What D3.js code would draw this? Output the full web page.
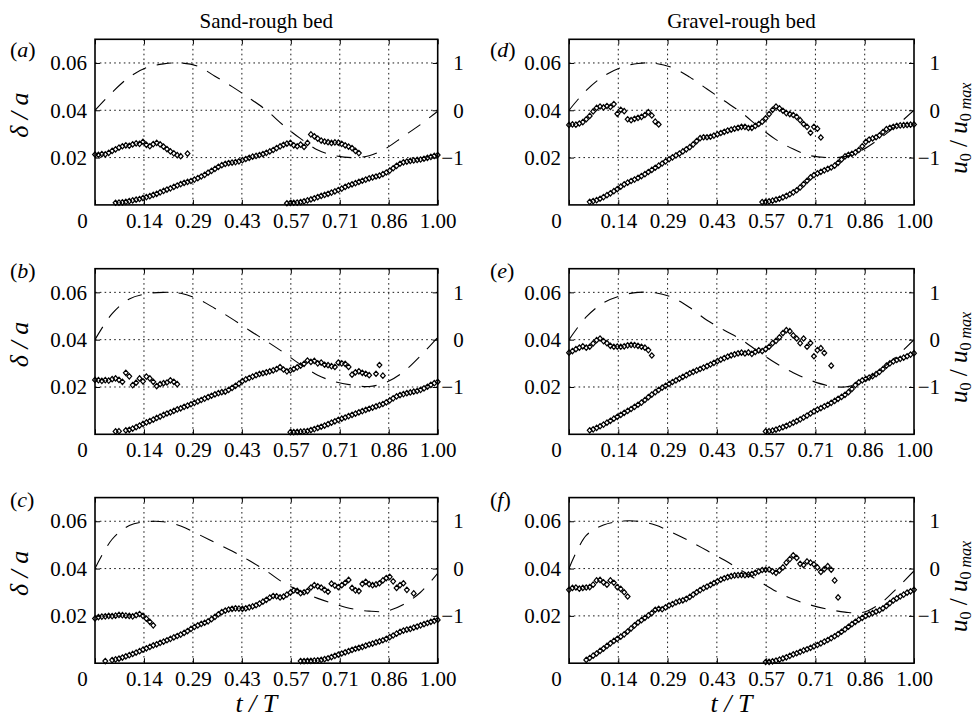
<!DOCTYPE html>
<html><head><meta charset="utf-8">
<script src="https://cdn.jsdelivr.net/npm/d3@7"></script>
<style>
body{margin:0;background:#fff}
svg{display:block}
text{font-family:"Liberation Serif","Times New Roman",serif;fill:#000}
</style>
</head><body>
<svg id="chart" width="980" height="721"></svg>
<script>
// ---------------- DATA ----------------
// Phase sampling step of the δ/a measurements (t/T)
const STEP = 0.01;
// Start phase of each diamond segment: [upper 1, rising 1, upper 2, rising 2]
const aStarts = [0.00, 0.06, 0.58, 0.56];
const bStarts = [0.00, 0.06, 0.58, 0.57];
const cStarts = [0.00, 0.03, 0.60, 0.60];
const dStarts = [0.00, 0.06, 0.60, 0.56];
const eStarts = [0.00, 0.06, 0.60, 0.57];
const fStarts = [0.00, 0.05, 0.61, 0.57];

// (a) sand, δ/a
const aUp1 = [.0213,.0212,.0215,.0214,.0220,.0228,.0235,.0242,.0248,.0252,.0250,.0256,.0260,.0258,.0267,.0254,.0248,.0257,.0262,.0256,.0246,.0236,.0226,.0218,.0210,.0206,null,.0217];
const aRise1 = [.0009,.0010,.0011,.0013,.0016,.0019,.0022,.0025,.0029,.0033,.0037,.0042,.0047,.0053,.0059,.0065,.0070,.0076,.0082,.0088,.0093,.0097,.0101,.0107,.0113,.0120,.0127,.0136,.0144,.0152,.0161,.0168,.0173,.0177,.0179,.0181,.0184,.0189,.0194,.0199,.0204,.0207,.0211,.0215,.0220,.0226,.0232,.0240,.0247,.0254,.0259,.0262];
const aUp2 = [.0252,.0248,.0255,.0245,.0262,.0298,.0290,.0280,.0272,.0268,.0265,.0262,.0264,.0263,.0258,.0252,.0246,.0240,.0228,.0219];
const aRise2 = [.0007,.0008,.0009,.0010,.0012,.0015,.0019,.0023,.0028,.0033,.0038,.0042,.0047,.0052,.0057,.0063,.0069,.0076,.0082,.0087,.0092,.0097,.0102,.0107,.0112,.0116,.0120,.0124,.0130,.0137,.0145,.0155,.0165,.0174,.0180,.0183,.0186,.0188,.0190,.0192,.0195,.0199,.0203,.0207,.0211];
// (b) sand
const bUp1 = [.0230,.0229,.0226,.0229,.0227,.0233,.0236,.0230,.0222,.0260,.0245,.0208,.0218,.0236,.0224,.0244,.0236,.0222,.0204,.0212,.0216,.0219,.0228,.0222,.0212];
const bRise1 = [.0012,.0013,null,.0017,.0019,.0024,.0030,.0037,.0044,.0050,.0056,.0062,.0069,.0075,.0082,.0088,.0093,.0099,.0105,.0110,.0116,.0121,.0127,.0133,.0139,.0145,.0151,.0157,.0163,.0169,.0174,.0178,.0180,.0188,.0196,.0205,.0214,.0225,.0232,.0238,.0244,.0250,.0255,.0258,.0262,.0266,.0270,.0276,.0284,.0274,.0266,.0270];
const bUp2 = [.0276,.0283,.0290,.0298,.0312,.0306,.0310,.0300,.0303,.0294,.0292,.0288,.0285,.0303,.0300,.0298,.0285,.0252,.0262,.0266,.0260,.0256,.0250,null,.0256,.0293,.0248];
const bRise2 = [.0009,.0009,.0010,.0011,.0012,.0014,.0018,.0022,.0027,.0032,.0037,.0043,.0049,.0055,.0061,.0066,.0071,.0077,.0082,.0087,.0093,.0098,.0103,.0108,.0113,.0118,.0123,.0128,.0135,.0143,.0152,.0160,.0166,.0170,.0174,.0177,.0180,.0183,.0188,.0194,.0201,.0209,.0216,.0222];
// (c) sand
const cUp1 = [.0189,.0195,.0197,.0198,.0200,.0199,.0201,.0204,.0203,.0201,.0200,.0198,.0203,.0208,.0200,.0188,.0175,.0160];
const cRise1 = [.0009,null,.0013,.0016,.0019,.0024,.0029,.0034,.0039,.0045,.0051,.0057,.0063,.0069,.0075,.0080,.0086,.0091,.0097,.0103,.0109,.0115,.0121,.0128,.0136,.0145,.0153,.0160,.0166,.0171,.0177,.0186,.0196,.0207,.0216,.0222,.0227,.0230,.0232,.0231,.0230,.0232,.0236,.0240,.0245,.0252,.0260,.0268,.0277,.0284,.0283,.0278,.0281,.0290,.0298,.0308,.0306];
const cUp2 = [.0296,.0300,.0305,.0320,.0330,.0325,.0320,.0310,.0302,.0336,.0328,.0322,.0330,.0340,.0352,.0318,.0308,.0305,.0335,.0344,.0334,.0330,.0333,.0338,.0350,.0360,.0365,.0346,.0318,.0330,.0338,.0310,null,.0295];
const cRise2 = [.0009,.0009,.0010,.0010,.0011,.0012,.0014,.0017,.0021,.0026,.0031,.0036,.0041,.0046,.0051,.0056,.0061,.0065,.0069,.0074,.0079,.0083,.0088,.0092,.0097,.0103,.0110,.0117,.0125,.0132,.0138,.0142,.0145,.0150,.0155,.0160,.0165,.0170,.0175,.0179,.0183];
// (d) gravel
const dUp1 = [.0338,.0340,.0339,.0344,.0350,.0362,.0376,.0395,.0410,.0416,.0412,.0418,.0414,.0426,.0385,.0402,.0396,.0362,.0358,.0364,.0368,.0372,.0380,.0392,.0378,.0352,.0340];
const dRise1 = [.0013,.0016,.0020,.0026,.0033,.0041,.0049,.0058,.0067,.0077,.0087,.0094,.0101,.0107,.0114,.0122,.0130,.0139,.0148,.0157,.0166,.0175,.0184,.0193,.0201,.0209,.0217,.0226,.0235,.0244,.0256,.0270,.0282,.0286,.0286,.0288,.0293,.0298,.0304,.0309,.0314,.0318,.0322,.0326,.0330,.0330,.0325,.0326,.0334,.0342,.0352,.0366,.0384,.0402];
const dUp2 = [.0416,.0408,.0398,.0388,.0384,.0380,.0372,.0358,.0342,.0330,.0305,.0330,.0322,.0285];
const dRise2 = [.0012,.0013,.0015,.0018,.0022,.0026,.0032,.0038,.0045,.0053,.0062,.0074,.0088,.0102,.0116,.0126,.0133,.0140,.0146,.0152,.0158,.0166,.0178,.0192,.0205,.0212,.0216,.0222,.0232,.0248,.0266,.0276,.0281,.0286,.0294,.0308,.0320,.0326,.0330,.0334,.0336,.0337,.0338,.0339,.0340];
// (e) gravel
const eUp1 = [.0345,.0352,.0360,.0366,.0372,.0366,.0370,.0384,.0398,.0405,.0394,.0385,.0374,.0370,.0371,.0370,.0372,.0376,.0378,.0377,.0374,.0370,.0366,.0356,.0333];
const eRise1 = [.0017,.0021,.0027,.0034,.0041,.0049,.0057,.0066,.0074,.0082,.0091,.0099,.0107,.0116,.0125,.0134,.0145,.0157,.0168,.0178,.0188,.0197,.0205,.0213,.0221,.0228,.0235,.0243,.0250,.0258,.0264,.0270,.0276,.0282,.0288,.0295,.0302,.0309,.0316,.0322,.0328,.0334,.0338,.0342,.0345,.0342,.0346,.0340,.0348,.0355,.0352,.0360,.0370,.0385];
const eUp2 = [.0395,.0410,.0428,.0440,.0436,.0418,.0405,.0385,.0405,.0370,.0386,.0330,.0356,.0364,.0344,null,.0290];
const eRise2 = [.0012,.0013,.0016,.0020,.0025,.0030,.0036,.0042,.0049,.0056,.0063,.0071,.0079,.0088,.0097,.0104,.0111,.0118,.0125,.0133,.0141,.0150,.0158,.0167,.0178,.0192,.0208,.0220,.0228,.0234,.0240,.0246,.0254,.0264,.0276,.0290,.0300,.0308,.0314,.0319,.0324,.0330,.0337,.0343];
// (f) gravel
const fUp1 = [.0310,.0318,.0320,.0315,.0318,.0320,.0322,.0332,.0350,.0352,.0342,.0332,.0350,.0340,.0322,.0314,.0300,.0282];
const fRise1 = [.0014,.0022,.0032,.0041,.0052,.0062,.0073,.0084,.0094,.0103,.0112,.0122,.0134,.0147,.0160,.0172,.0182,.0192,.0202,.0212,.0226,.0230,.0228,.0236,.0244,.0250,.0257,.0262,.0266,.0272,.0280,.0290,.0300,.0309,.0317,.0324,.0331,.0339,.0346,.0353,.0359,.0364,.0368,.0371,.0372,.0373,.0372,.0374,.0377,.0382,.0388,.0394,.0395,.0396,.0388,.0382];
const fUp2 = [.0392,.0405,.0425,.0440,.0456,.0445,.0420,.0415,.0430,.0425,.0418,.0405,.0386,.0398,.0410,.0395,.0350,.0278];
const fRise2 = [.0005,.0006,.0008,.0011,.0015,.0020,.0025,.0031,.0037,.0042,.0048,.0054,.0059,.0065,.0071,.0077,.0084,.0091,.0098,.0106,.0114,.0123,.0133,.0143,.0154,.0165,.0175,.0184,.0192,.0200,.0206,.0212,.0218,.0224,.0232,.0242,.0254,.0265,.0274,.0282,.0290,.0298,.0304,.0310];

// Free-stream velocity u0/u0max (dashed), sampled at FLOW_T
const FLOW_T = [0,0.05,0.10,0.15,0.20,0.25,0.30,0.35,0.40,0.45,0.50,0.55,0.60,0.65,0.70,0.75,0.80,0.85,0.90,0.95,1.00];
const aFlow = [0,.38,.70,.90,.98,1.0,.93,.72,.50,.26,0,-.32,-.60,-.84,-.96,-1.0,-.96,-.80,-.55,-.30,-.02];
const bFlow = [0,.55,.86,.97,1.0,.98,.86,.66,.44,.20,-.03,-.27,-.53,-.75,-.89,-.96,-.99,-.90,-.68,-.34,.05];
const cFlow = [0,.62,.91,.99,.99,.90,.73,.55,.37,.17,-.05,-.30,-.48,-.63,-.75,-.85,-.90,-.90,-.76,-.50,-.10];
const dFlow = [0,.42,.72,.90,.99,.99,.90,.70,.45,.20,-.05,-.35,-.62,-.82,-.96,-1.0,-.98,-.84,-.60,-.32,0];
const eFlow = [0,.48,.78,.93,1.0,.99,.89,.68,.41,.20,0,-.26,-.50,-.70,-.86,-.97,-1.0,-.90,-.65,-.35,0];
const fFlow = [0,.70,.92,1.0,1.0,.92,.76,.58,.38,.18,-.04,-.26,-.48,-.65,-.77,-.86,-.92,-.93,-.75,-.42,-.05];

// Axes
const X_TICKS = [0, 1/7, 2/7, 3/7, 4/7, 5/7, 6/7, 1];
const X_LABELS = ["0","0.14","0.29","0.43","0.57","0.71","0.86","1.00"];
const Y_TICKS = [0.02, 0.04, 0.06];
const Y_LABELS = ["0.02","0.04","0.06"];
const R_TICKS = [-1, 0, 1];
const R_LABELS = ["\u22121","0","1"];
const COL_TITLES = ["Sand-rough bed", "Gravel-rough bed"];

// ---------------- LAYOUT ----------------
const COLS = [{x0: 95, w: 342.7}, {x0: 569, w: 345}];
const ROWS = [39.3, 268.7, 497.6];
const PH = 165.6;
const LETTER_Y = [57, 278, 507];

const PANELS = [
  {key:"a", c:0, r:0, segs:[aUp1,aRise1,aUp2,aRise2], starts:aStarts, flow:aFlow},
  {key:"b", c:0, r:1, segs:[bUp1,bRise1,bUp2,bRise2], starts:bStarts, flow:bFlow},
  {key:"c", c:0, r:2, segs:[cUp1,cRise1,cUp2,cRise2], starts:cStarts, flow:cFlow},
  {key:"d", c:1, r:0, segs:[dUp1,dRise1,dUp2,dRise2], starts:dStarts, flow:dFlow},
  {key:"e", c:1, r:1, segs:[eUp1,eRise1,eUp2,eRise2], starts:eStarts, flow:eFlow},
  {key:"f", c:1, r:2, segs:[fUp1,fRise1,fUp2,fRise2], starts:fStarts, flow:fFlow}
];

const svg = d3.select("#chart");
const FONT = "Liberation Serif, Times New Roman, serif";
const DIAMOND = "M0,-2.7L2.4,0L0,2.7L-2.4,0Z";

PANELS.forEach((p, pi) => {
  const col = COLS[p.c], top = ROWS[p.r], w = col.w, h = PH;
  const x = d3.scaleLinear().domain([0, 1]).range([0, w]);
  const yL = d3.scaleLinear().domain([0, 0.07]).range([h, 0]);
  const yR = d3.scaleLinear().domain([-2, 1.5]).range([h, 0]);

  const g = svg.append("g").attr("transform", `translate(${col.x0},${top})`);

  svg.append("clipPath").attr("id", "clip" + pi)
    .append("rect").attr("width", w).attr("height", h);

  // grid
  const grid = g.append("g").attr("stroke", "#000").attr("stroke-width", 0.9)
    .attr("stroke-dasharray", "1.6,3.2");
  grid.selectAll("line.vx").data(X_TICKS.slice(1, -1)).join("line")
    .attr("x1", d => x(d)).attr("x2", d => x(d)).attr("y1", 0).attr("y2", h);
  grid.selectAll("line.hy").data(Y_TICKS).join("line")
    .attr("x1", 0).attr("x2", w).attr("y1", d => yL(d)).attr("y2", d => yL(d));

  // dashed free-stream velocity
  const flowPts = FLOW_T.map((t, i) => ({t, u: p.flow[i]}));
  g.append("path").datum(flowPts)
    .attr("clip-path", `url(#clip${pi})`)
    .attr("fill", "none").attr("stroke", "#000").attr("stroke-width", 1.1)
    .attr("stroke-dasharray", "15,11")
    .attr("d", d3.line().x(d => x(d.t)).y(d => yR(d.u)).curve(d3.curveCatmullRom.alpha(0.5)));

  // diamonds
  const pts = [];
  p.segs.forEach((seg, si) => {
    seg.forEach((v, i) => {
      if (v !== null) pts.push({t: p.starts[si] + i * STEP, v});
    });
  });
  g.append("g").selectAll("path").data(pts).join("path")
    .attr("d", DIAMOND)
    .attr("transform", d => `translate(${x(d.t)},${yL(d.v)})`)
    .attr("fill", "none").attr("stroke", "#000").attr("stroke-width", 1.2);

  // axes
  const styleAxis = sel => {
    sel.attr("font-family", FONT).attr("font-size", 21);
    sel.select(".domain").remove();
    sel.selectAll(".tick line").attr("stroke", "#000").attr("stroke-width", 1);
    sel.selectAll(".tick text").attr("fill", "#000");
  };
  const gx = g.append("g").attr("transform", `translate(0,${h})`)
    .call(d3.axisBottom(x).tickValues(X_TICKS).tickFormat((d, i) => X_LABELS[i])
      .tickSizeInner(-5).tickSizeOuter(0).tickPadding(8))
    .call(styleAxis);
  gx.selectAll(".tick text").filter(d => d === 0).attr("dx", -13);

  g.append("g")
    .call(d3.axisTop(x).tickValues(X_TICKS).tickFormat("").tickSizeInner(-5).tickSizeOuter(0))
    .call(styleAxis);

  g.append("g")
    .call(d3.axisLeft(yL).tickValues(Y_TICKS).tickFormat((d, i) => Y_LABELS[i])
      .tickSizeInner(-5).tickSizeOuter(0).tickPadding(8))
    .call(styleAxis);

  const gr = g.append("g").attr("transform", `translate(${w},0)`)
    .call(d3.axisRight(yR).tickValues(R_TICKS).tickFormat((d, i) => R_LABELS[i])
      .tickSizeInner(-5).tickSizeOuter(0))
    .call(styleAxis);
  gr.selectAll(".tick text").attr("x", 26).attr("text-anchor", "end");

  // frame
  g.append("rect").attr("width", w).attr("height", h)
    .attr("fill", "none").attr("stroke", "#000").attr("stroke-width", 1.6);

  // panel letter
  const lt = svg.append("text").attr("x", p.c === 0 ? 10 : 490).attr("y", LETTER_Y[p.r])
    .attr("font-size", 22);
  lt.append("tspan").text("(");
  lt.append("tspan").attr("font-style", "italic").text(p.key);
  lt.append("tspan").text(")");

  // side labels
  if (p.c === 0) {
    svg.append("text")
      .attr("transform", `translate(28,${top + h / 2 - 7}) rotate(-90)`)
      .attr("text-anchor", "middle").attr("font-size", 26).attr("font-style", "italic")
      .text("\u03b4 / a");
  } else {
    const rt = svg.append("text")
      .attr("transform", `translate(967,${top + h / 2 + 6}) rotate(-90)`)
      .attr("text-anchor", "middle").attr("font-size", 25);
    rt.append("tspan").attr("font-style", "italic").text("u");
    rt.append("tspan").attr("font-size", 16).attr("dy", 4).text("0");
    rt.append("tspan").attr("dy", -4).text(" / ");
    rt.append("tspan").attr("font-style", "italic").text("u");
    rt.append("tspan").attr("font-size", 16).attr("dy", 4).text("0 ");
    rt.append("tspan").attr("font-size", 16).attr("font-style", "italic").text("max");
  }

  if (p.r === 2) {
    svg.append("text").attr("x", col.x0 + w / 2 - 10).attr("y", 712)
      .attr("text-anchor", "middle").attr("font-size", 26).attr("font-style", "italic")
      .text("t / T");
  }
  if (p.r === 0) {
    svg.append("text").attr("x", col.x0 + w / 2).attr("y", 28)
      .attr("text-anchor", "middle").attr("font-size", 21)
      .text(COL_TITLES[p.c]);
  }
});
</script>
</body></html>
